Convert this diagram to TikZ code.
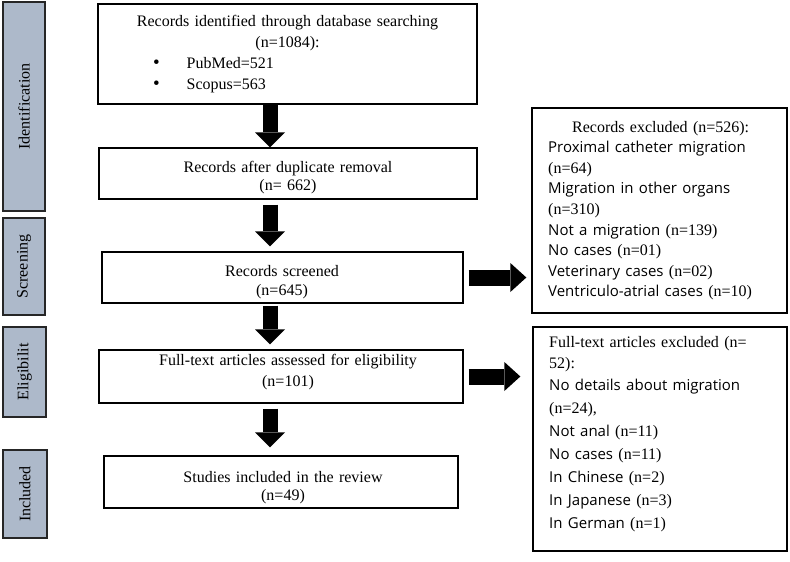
\documentclass[tikz,border=0pt]{standalone}
\usepackage{fontspec}
\usepackage{graphicx}
\setmainfont{Liberation Serif}
\newfontfamily\segoe{Open Sans}
\usetikzlibrary{arrows.meta}
\definecolor{barfill}{RGB}{173,185,202}
\definecolor{bardraw}{RGB}{38,38,38}
\newcommand\sg[1]{{\segoe\fontsize{15pt}{18pt}\selectfont #1}}
\begin{document}
\begin{tikzpicture}[x=1pt,y=-1pt,
  box/.style={draw=black, line width=1.3pt, inner sep=0pt},
  bar/.style={draw=bardraw, fill=barfill, line width=1.5pt, inner sep=0pt, font=\fontsize{16pt}{19pt}\selectfont},
  txt/.style={inner sep=0pt, anchor=base, text width=380pt, align=center},
  darr/.style={line width=15pt, -{Triangle[width=30pt,length=15pt,line width=0pt]}},
  harr/.style={line width=16pt, -{Triangle[width=29pt,length=16pt,line width=0pt]}, shorten <=5pt}
]
\useasboundingbox (0,0) rectangle (790,562);
% side bars
\node[bar, minimum width=42pt, minimum height=209pt] (s1) at (24,106.5) {\rotatebox{90}{Identification}};
\node[bar, minimum width=42pt, minimum height=97pt] (s2) at (24,266.5) {\rotatebox{90}{Screening}};
\node[bar, minimum width=43pt, minimum height=90pt] (s3) at (24.5,372) {\rotatebox{90}{Eligibilit}};
\node[bar, minimum width=44pt, minimum height=88pt] (s4) at (25,494) {\rotatebox{90}{Included}};
% main boxes
\node[box, minimum width=379pt, minimum height=100pt] (b1) at (287.5,54) {};
\node[box, minimum width=378pt, minimum height=51pt] (b2) at (288,173.5) {};
\node[box, minimum width=361pt, minimum height=51pt] (b3) at (282.5,277.5) {};
\node[box, minimum width=364pt, minimum height=53pt] (b4) at (281,376.5) {};
\node[box, minimum width=354pt, minimum height=52pt] (b5) at (281,482) {};
\node[box, minimum width=255pt, minimum height=205pt] (r1) at (659.5,210.5) {};
\node[box, minimum width=254pt, minimum height=224pt] (r2) at (660,439) {};
% texts
\node[txt, text width=379pt, font=\fontsize{16pt}{20.7pt}\selectfont] (t1) at (287.5,27)
 {Records identified through database searching\\(n=1084):\\
  \makebox[379pt][l]{\hspace{55pt}{\fontsize{19pt}{19pt}\selectfont\textbullet}\hspace{27pt}PubMed=521}\\
  \makebox[379pt][l]{\hspace{55pt}{\fontsize{19pt}{19pt}\selectfont\textbullet}\hspace{27pt}Scopus=563}};
\node[txt, font=\fontsize{16pt}{18.5pt}\selectfont] (t2) at (288,172) {Records after duplicate removal\\(n= 662)};
\node[txt, font=\fontsize{16pt}{19pt}\selectfont] (t3) at (282,276) {Records screened\\(n=645)};
\node[txt, font=\fontsize{16pt}{21pt}\selectfont] (t4) at (288,365) {Full-text articles assessed for eligibility\\(n=101)};
\node[txt, font=\fontsize{16pt}{18pt}\selectfont] (t5) at (283,482) {Studies included in the review\\(n=49)};
\node[inner sep=0pt, anchor=base west, text width=236pt, align=left, font=\fontsize{16pt}{20.6pt}\selectfont] (t6) at (548,132)
 {\hspace*{24pt}Records excluded (n=526):\\
  \sg{Proximal catheter migration}\\
  (n=64)\\
  \sg{Migration in other organs}\\
  (n=310)\\
  \sg{Not a migration }(n=139)\\
  \sg{No cases }(n=01)\\
  \sg{Veterinary cases }(n=02)\\
  \sg{Ventriculo-atrial cases }(n=10)};
\node[inner sep=0pt, anchor=base west, text width=236pt, align=left, font=\fontsize{16pt}{22.9pt}\selectfont] (t7) at (549,347)
 {Full-text articles excluded (n=\\[-1.9pt]
  52):\\
  \sg{No details about migration}\\
  (n=24),\\
  \sg{Not anal }(n=11)\\
  \sg{No cases }(n=11)\\
  \sg{In Chinese }(n=2)\\
  \sg{In Japanese }(n=3)\\
  \sg{In German }(n=1)};
% arrows
\coordinate (ax) at (270,0);
\draw[darr] (b1.south -| ax) -- (b2.north -| ax);
\draw[darr, shorten <=5pt, shorten >=5pt] (b2.south -| ax) -- (b3.north -| ax);
\draw[darr, shorten <=2pt, shorten >=5pt] (b3.south -| ax) -- (b4.north -| ax);
\draw[darr, shorten <=5pt, shorten >=8pt] (b4.south -| ax) -- (b5.north -| ax);
\draw[harr, shorten >=5pt] (b3.east) -- (b3.east -| r1.west);
\draw[harr, shorten >=12pt] (b4.east) -- (b4.east -| r2.west);
\end{tikzpicture}
\end{document}
